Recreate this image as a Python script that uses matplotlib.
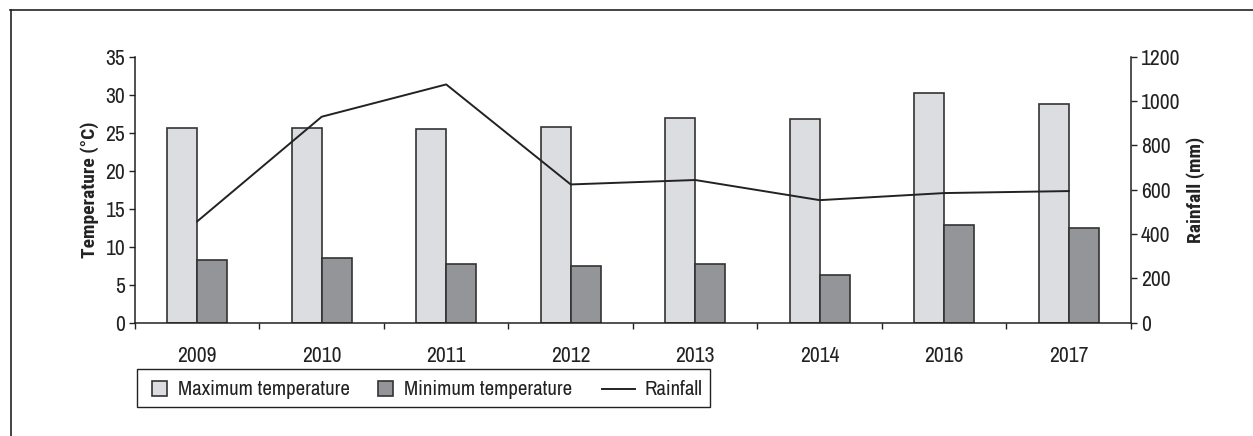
import matplotlib
matplotlib.use("Agg")
import matplotlib.pyplot as plt
import numpy as np
from matplotlib.patches import Rectangle
from matplotlib.lines import Line2D

plt.rcParams['font.family'] = ['Archivo Narrow', 'Roboto Condensed', 'Liberation Sans', 'DejaVu Sans']
bold_family = ['Roboto Condensed', 'Liberation Sans', 'DejaVu Sans']

years = ['2009', '2010', '2011', '2012', '2013', '2014', '2016', '2017']
t_max = [25.6, 25.7, 25.5, 25.8, 27.0, 26.8, 30.3, 28.8]
t_min = [8.2, 8.5, 7.7, 7.4, 7.7, 6.2, 12.9, 12.4]
rain = [457, 930, 1076, 624, 644, 553, 585, 594]

W, H = 1253, 436
fig = plt.figure(figsize=(W / 100, H / 100), dpi=100)
ax = fig.add_axes([0.1077, 0.2603, 0.7949, 0.609])
ax2 = ax.twinx()

light, dark, ink = '#dcdde0', '#939598', '#222222'

x = np.arange(len(years))
w = 0.24
ax.bar(x - w/2, t_max, w, color=light, edgecolor='#333333', linewidth=1.2, zorder=2)
ax.bar(x + w/2, t_min, w, color=dark, edgecolor='#333333', linewidth=1.2, zorder=2)
ax2.plot(x, rain, color=ink, linewidth=1.4)

ax.set_xlim(-0.5, len(years) - 0.5)
ax.set_ylim(0, 35)
ax.set_yticks(range(0, 36, 5))
ax2.set_ylim(0, 1200)
ax2.set_yticks(range(0, 1201, 200))

ax.set_xticks(x)
ax.set_xticklabels(years)
ax.set_xticks(np.arange(-0.5, len(years)), minor=True)
ax.tick_params(axis='x', which='major', length=0, pad=17, labelsize=15.5, colors=ink)
ax.tick_params(axis='x', which='minor', length=4, width=1, color=ink)
ax.tick_params(axis='y', length=4, width=1, labelsize=15.5, colors=ink, pad=3)
ax2.tick_params(axis='y', length=4, width=1, labelsize=15.5, colors=ink, pad=3)

for a in (ax, ax2):
    a.spines['top'].set_visible(False)
    for s in ('left', 'right', 'bottom'):
        a.spines[s].set_color(ink)
        a.spines[s].set_linewidth(1.1)
ax.spines['right'].set_visible(False)
ax2.spines['left'].set_visible(False)
ax2.spines['bottom'].set_visible(False)

ax.set_ylabel('Temperature (°C)', fontsize=14, fontweight='bold', family=bold_family,
              labelpad=5, color=ink)
ax2.set_ylabel('Rainfall (mm)', fontsize=14, fontweight='bold', family=bold_family,
               labelpad=4, color=ink)


# legend laid out like the original (equal-width slots), in figure pixels
def fx(px):
    return px / W


def fy(py):
    return 1 - py / H


tf = fig.transFigure
fig.add_artist(Rectangle((fx(137), fy(407)), fx(710) - fx(137), fy(369) - fy(407),
                         transform=tf, fill=False, edgecolor=ink, linewidth=1.0))
labels = ['Maximum temperature', 'Minimum temperature', 'Rainfall']
for lx, fc in ((152, light), (378, dark)):
    fig.add_artist(Rectangle((fx(lx), fy(396)), fx(15), 15 / H, transform=tf,
                             facecolor=fc, edgecolor='#333333', linewidth=1.2))
fig.add_artist(Line2D([fx(602), fx(635)], [fy(388.5), fy(388.5)], transform=tf,
                      color=ink, linewidth=1.4))
for tx, lab in zip((178, 404, 645), labels):
    fig.text(fx(tx), fy(395), lab, fontsize=15, color=ink, va='baseline', ha='left')

# outer frame: top and left only
fig.add_artist(Line2D([0.008, 1.0], [0.977, 0.977], transform=tf, color=ink, linewidth=1.2))
fig.add_artist(Line2D([0.0085, 0.0085], [0.0, 0.977], transform=tf, color=ink, linewidth=1.2))

fig.savefig('out.png', dpi=100)
